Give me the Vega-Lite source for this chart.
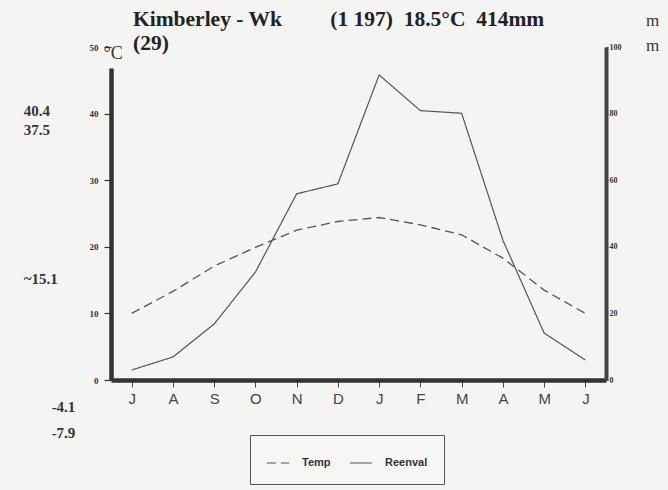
{
  "$schema": "https://vega.github.io/schema/vega-lite/v6.json",
  "width": 495,
  "height": 333,
  "autosize": {"type": "none"},
  "padding": {"left": 111, "top": 47, "right": 62, "bottom": 110},
  "background": "#f4f4f3",
  "config": {"view": {"stroke": null}, "font": "Liberation Serif"},
  "title": {
    "text": ["Kimberley - Wk\u00a0\u00a0\u00a0\u00a0\u00a0\u00a0\u00a0\u00a0\u00a0(1\u00a0197)\u00a0\u00a018.5\u00b0C\u00a0\u00a0414mm", "(29)"],
    "anchor": "start",
    "frame": "group",
    "dx": 22,
    "dy": 60,
    "offset": 0,
    "baseline": "alphabetic",
    "font": "Liberation Serif",
    "fontSize": 21.5,
    "fontWeight": "bold",
    "color": "#222",
    "lineHeight": 24
  },
  "datasets": {
    "klimaat": [
      {"maand": "Jul", "temp": 10.0, "reen": 3.0},
      {"maand": "Aug", "temp": 13.3, "reen": 6.9},
      {"maand": "Sep", "temp": 17.1, "reen": 16.8},
      {"maand": "Okt", "temp": 19.9, "reen": 32.4},
      {"maand": "Nov", "temp": 22.5, "reen": 55.9},
      {"maand": "Des", "temp": 23.8, "reen": 58.9},
      {"maand": "Jan", "temp": 24.4, "reen": 91.6},
      {"maand": "Feb", "temp": 23.3, "reen": 80.9},
      {"maand": "Mrt", "temp": 21.8, "reen": 80.1},
      {"maand": "Apr", "temp": 18.3, "reen": 42.0},
      {"maand": "Mei", "temp": 13.5, "reen": 14.1},
      {"maand": "Jun", "temp": 10.0, "reen": 6.0}
    ],
    "uiterstes": [
      {"waarde": 40.4, "teks": "40.4"},
      {"waarde": 37.5, "teks": "37.5"},
      {"waarde": 15.1, "teks": "~15.1"},
      {"waarde": -4.1, "teks": "-4.1"},
      {"waarde": -7.9, "teks": "-7.9"}
    ]
  },
  "data": {"name": "klimaat"},
  "layer": [
    {
      "layer": [
        {
          "mark": {"type": "line", "color": "#555", "strokeWidth": 1.3},
          "encoding": {
            "x": {
              "field": "maand",
              "type": "ordinal",
              "sort": null,
              "scale": {"type": "point", "padding": 0.5, "domain": ["Jul", "Aug", "Sep", "Okt", "Nov", "Des", "Jan", "Feb", "Mrt", "Apr", "Mei", "Jun"]},
              "axis": {
                "title": null,
                "grid": false,
                "labelAngle": 0,
                "labelExpr": "substring(datum.label, 0, 1)",
                "domainWidth": 4.5,
                "domainColor": "#333",
                "tickColor": "#444",
                "tickSize": 7,
                "tickWidth": 1,
                "labelFont": "Liberation Sans",
                "labelFontSize": 15,
                "labelColor": "#444",
                "labelPadding": 4
              }
            },
            "y": {
              "field": "temp",
              "type": "quantitative",
              "scale": {"domain": [0, 50], "nice": false},
              "axis": {
                "values": [0, 10, 20, 30, 40, 50],
                "grid": false,
                "domainWidth": 4.5,
                "domainColor": "#333",
                "domainDash": [312, 40],
                "tickColor": "#333",
                "tickSize": 7,
                "tickWidth": 1.2,
                "labelFont": "Liberation Serif",
                "labelFontSize": 9,
                "labelFontWeight": "bold",
                "labelColor": "#333",
                "labelPadding": 6,
                "title": "\u00b0C",
                "titleAngle": 0,
                "titleAlign": "left",
                "titleBaseline": "alphabetic",
                "titleX": -8,
                "titleY": 11,
                "titleFont": "Liberation Serif",
                "titleFontSize": 18,
                "titleFontWeight": "normal",
                "titleColor": "#333"
              }
            },
            "strokeDash": {
              "datum": "Temp",
              "type": "nominal",
              "scale": {"domain": ["Temp", "Reenval"], "range": [[9, 5], [1, 0]]},
              "legend": {
                "title": null,
                "orient": "none",
                "direction": "horizontal",
                "legendX": 139,
                "legendY": 388,
                "fillColor": "#f6f6f5",
                "strokeColor": "#555",
                "padding": 16,
                "symbolType": "stroke",
                "symbolSize": 500,
                "symbolStrokeColor": "#555",
                "symbolStrokeWidth": 1.2,
                "labelFont": "Liberation Sans",
                "labelFontSize": 11,
                "labelFontWeight": "bold",
                "labelColor": "#333",
                "labelOffset": 12,
                "columnPadding": 16
              }
            }
          }
        },
        {
          "data": {"name": "uiterstes"},
          "transform": [{"filter": "datum.waarde > 0"}],
          "mark": {"type": "text", "align": "left", "baseline": "middle", "dx": -108, "font": "Liberation Serif", "fontSize": 15, "fontWeight": "bold", "color": "#333"},
          "encoding": {
            "x": {"datum": "Jul", "type": "ordinal"},
            "y": {"field": "waarde", "type": "quantitative"},
            "text": {"field": "teks"}
          }
        },
        {
          "data": {"name": "uiterstes"},
          "transform": [{"filter": "datum.waarde < 0"}],
          "mark": {"type": "text", "align": "left", "baseline": "middle", "dx": -80, "font": "Liberation Serif", "fontSize": 15, "fontWeight": "bold", "color": "#333"},
          "encoding": {
            "x": {"datum": "Jul", "type": "ordinal"},
            "y": {"field": "waarde", "type": "quantitative"},
            "text": {"field": "teks"}
          }
        }
      ]
    },
    {
      "mark": {"type": "line", "color": "#555", "strokeWidth": 1.2},
      "encoding": {
        "x": {"field": "maand", "type": "ordinal", "sort": null},
        "y": {
          "field": "reen",
          "type": "quantitative",
          "scale": {"domain": [0, 100], "nice": false},
          "axis": {
            "orient": "right",
            "values": [0, 20, 40, 60, 80, 100],
            "grid": false,
            "domainWidth": 4,
            "domainColor": "#444",
            "tickColor": "#444",
            "tickSize": 2,
            "labelFont": "Liberation Serif",
            "labelFontSize": 8,
            "labelFontWeight": "bold",
            "labelColor": "#333",
            "labelPadding": 1,
            "title": ["m", "m"],
            "titleAngle": 0,
            "titleAlign": "center",
            "titleBaseline": "alphabetic",
            "titleX": 46,
            "titleY": -22,
            "titleLineHeight": 25,
            "titleFont": "Liberation Serif",
            "titleFontSize": 17,
            "titleFontWeight": "normal",
            "titleColor": "#333"
          }
        },
        "strokeDash": {"datum": "Reenval", "type": "nominal"}
      }
    }
  ],
  "resolve": {"scale": {"y": "independent"}}
}
